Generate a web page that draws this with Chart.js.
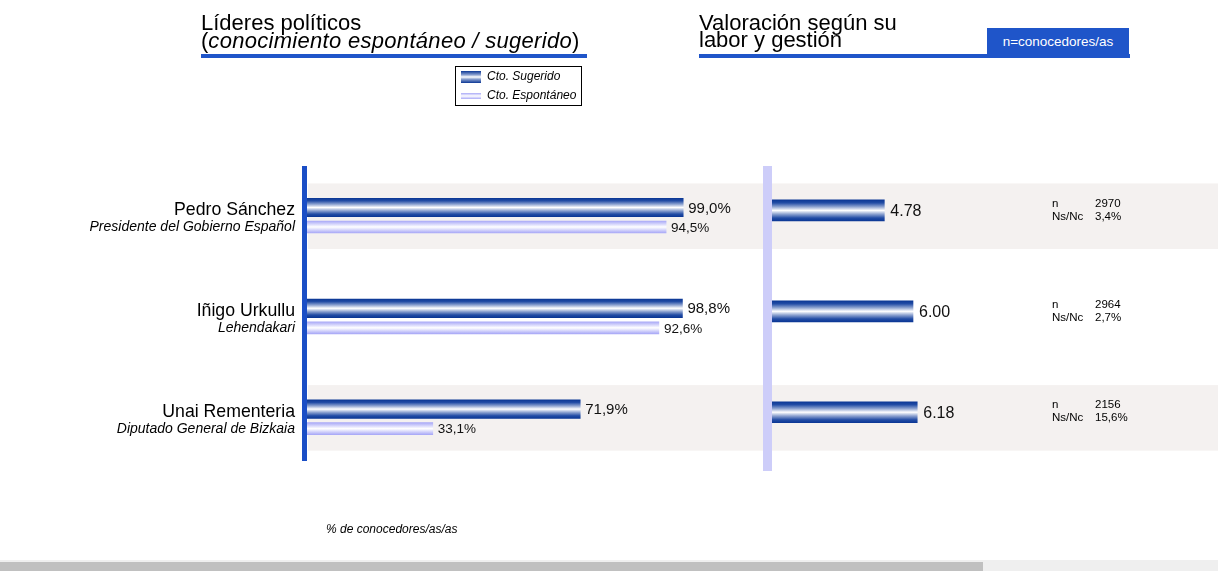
<!DOCTYPE html>
<html lang="es">
<head>
<meta charset="utf-8">
<title>Líderes políticos</title>
<script src="https://cdn.jsdelivr.net/npm/chart.js@4.4.1/dist/chart.umd.min.js"></script>
<style>
  body { margin: 0; width: 1218px; height: 571px; position: relative; overflow: hidden; background: #fff;
         font-family: "Liberation Sans", Arial, sans-serif; color: #000; }
  canvas { position: absolute; left: 0; top: 0; }
  #leftChart { z-index: 1; }
  #rightChart { z-index: 3; }
  .abs { position: absolute; }
  .title { font-size: 22px; line-height: 17.6px; white-space: nowrap; z-index: 4; }
  .title i { letter-spacing: 0.3px; }
  .rule { height: 4px; background: #1f55c9; top: 54px; z-index: 4; }
  #nBox { left: 987px; top: 28px; width: 142px; height: 26px; background: #1f55c9; color: #fff; font-size: 13.5px;
          display: flex; align-items: center; justify-content: center; z-index: 4; }
  #legend { left: 455px; top: 66px; width: 127px; height: 40px; border: 1px solid #000; box-sizing: border-box; z-index: 4; }
  .sw { position: absolute; left: 5px; width: 20px; }
  .lt { position: absolute; left: 31px; font-size: 12px; font-style: italic; line-height: 12px; white-space: nowrap; }
  #footer { left: 326px; top: 522px; font-size: 12px; font-style: italic; z-index: 4; }
</style>
</head>
<body>

<div class="abs title" style="left:201px; top:14.3px;">Líderes políticos<br>(<i>conocimiento espontáneo / sugerido</i>)</div>
<div class="abs rule" style="left:201px; width:386px;"></div>
<div class="abs title" style="left:699px; top:13.6px;">Valoración según su<br>labor y gestión</div>
<div class="abs rule" style="left:699px; width:431px;"></div>
<div class="abs" id="nBox">n=conocedores/as</div>
<div class="abs" id="legend"></div>

<!-- vertical axis bars -->
<div class="abs" style="left:302px; top:166px; width:5px; height:295px; background:#1a4ec6; z-index:2;"></div>
<div class="abs" style="left:763px; top:166px; width:9px; height:305px; background:#cdcdf9; z-index:2;"></div>

<canvas id="leftChart" width="1218" height="571"></canvas>
<canvas id="rightChart" width="1218" height="571"></canvas>

<div class="abs" id="footer">% de conocedores/as/as</div>
<div class="abs" style="left:0; top:560px; width:1218px; height:11px; background:#efefef; z-index:4;"></div>
<div class="abs" style="left:0; top:562px; width:983px; height:9px; background:#c0c0c0; z-index:5;"></div>

<script>
// chart data
const leaders = ['Pedro Sánchez', 'Iñigo Urkullu', 'Unai Rementeria'];
const roles = ['Presidente del Gobierno Español', 'Lehendakari', 'Diputado General de Bizkaia'];
const seriesNames = ['Cto. Sugerido', 'Cto. Espontáneo'];
const sugerido = [99.0, 98.8, 71.9];
const espontaneo = [94.5, 92.6, 33.1];
const valoracion = [4.78, 6.00, 6.18];
const nConocedores = [2970, 2964, 2156];
const nsnc = [3.4, 2.7, 15.6];

// bar look
const SUG_T = 22.5, SUG_W = 18.5;   // slot / visible thickness
const ESP_T = 16.5, ESP_W = 12;
const darkStops = [[0, '#0b3795'], [0.14, '#224ca5'], [0.32, '#8aa0cf'], [0.5, '#ffffff'], [0.68, '#8aa0cf'], [0.86, '#224ca5'], [1, '#0b3795']];
const lightStops = [[0, '#a9a9f7'], [0.5, '#ffffff'], [1, '#a9a9f7']];

const fmtPct = v => v.toFixed(1).replace('.', ',') + '%';

function vGrad(chart, center, half, stops) {
    const g = chart.ctx.createLinearGradient(0, center - half, 0, center + half);
    stops.forEach(s => g.addColorStop(s[0], s[1]));
    return g;
}

// gradient fill centred on each bar, from the category scale
function stripeFill(offset, half, stops) {
    return function (c) {
        const chart = c.chart;
        if (!chart.chartArea || !chart.scales.y) return stops[0][1];
        const y = chart.scales.y.getPixelForValue(c.dataIndex) + offset;
        return vGrad(chart, y, half, stops);
    };
}

// legend built from the series names
const legendEl = document.getElementById('legend');
[[seriesNames[0], 'linear-gradient(#0b3795, #8aa0cf 32%, #fff 50%, #8aa0cf 68%, #0b3795)', 4, 12, 9],
 [seriesNames[1], 'linear-gradient(#a9a9f7, #fff 50%, #a9a9f7)', 25.5, 6, 28]].forEach(item => {
    const sw = document.createElement('div');
    sw.className = 'sw';
    sw.style.top = item[2] + 'px';
    sw.style.height = item[3] + 'px';
    sw.style.background = item[1];
    const t = document.createElement('div');
    t.className = 'lt';
    t.style.top = (item[4] - 6) + 'px';
    t.textContent = item[0];
    legendEl.appendChild(sw);
    legendEl.appendChild(t);
});

function rowStep(scale, n) {
    return (scale.bottom - scale.top) / n;
}

// shaded rows across the whole width
const bandsPlugin = {
    id: 'bands',
    beforeDatasetsDraw(chart) {
        const { ctx, chartArea } = chart;
        const y = chart.scales.y;
        const step = rowStep(y, leaders.length);
        ctx.save();
        ctx.fillStyle = '#f4f1f0';
        leaders.forEach((l, i) => {
            if (i % 2 !== 0) return;
            const c = y.getPixelForValue(i);
            ctx.fillRect(chartArea.left + 1, c - 0.35 * step, chart.width - chartArea.left, 0.65 * step);
        });
        ctx.restore();
    }
};

// row names and value labels on the left
const leftLabels = {
    id: 'leftLabels',
    afterDatasetsDraw(chart) {
        const { ctx, chartArea } = chart;
        const y = chart.scales.y;
        ctx.save();
        ctx.fillStyle = '#000';
        ctx.textBaseline = 'middle';
        ctx.textAlign = 'right';
        leaders.forEach((name, i) => {
            const c = y.getPixelForValue(i);
            ctx.font = '17.7px "Liberation Sans", Arial, sans-serif';
            ctx.fillText(name, chartArea.left - 12, c - 8.5);
            ctx.font = 'italic 14px "Liberation Sans", Arial, sans-serif';
            ctx.fillText(roles[i], chartArea.left - 12, c + 8.5);
        });
        ctx.textAlign = 'left';
        const fonts = ['15px', '13.5px'];
        chart.data.datasets.forEach((ds, d) => {
            ctx.font = fonts[d] + ' "Liberation Sans", Arial, sans-serif';
            ctx.fillStyle = '#111';
            chart.getDatasetMeta(d).data.forEach((bar, i) => {
                ctx.fillText(fmtPct(ds.data[i]), bar.x + 5, bar.y + 1);
            });
        });
        ctx.restore();
    }
};

// scores and sample info on the right
const rightLabels = {
    id: 'rightLabels',
    afterDatasetsDraw(chart) {
        const { ctx, chartArea } = chart;
        const y = chart.scales.y;
        ctx.save();
        ctx.textBaseline = 'middle';
        ctx.textAlign = 'left';
        ctx.fillStyle = '#111';
        ctx.font = '16px "Liberation Sans", Arial, sans-serif';
        chart.getDatasetMeta(0).data.forEach((bar, i) => {
            ctx.fillText(valoracion[i].toFixed(2), bar.x + 6, bar.y + 1);
        });
        ctx.font = '11.5px "Liberation Sans", Arial, sans-serif';
        ctx.fillStyle = '#000';
        leaders.forEach((l, i) => {
            const c = y.getPixelForValue(i);
            ctx.fillText('n', chartArea.right + 45, c - 7);
            ctx.fillText(String(nConocedores[i]), chartArea.right + 88, c - 7);
            ctx.fillText('Ns/Nc', chartArea.right + 45, c + 6);
            ctx.fillText(nsnc[i].toFixed(1).replace('.', ',') + '%', chartArea.right + 88, c + 6);
        });
        ctx.restore();
    }
};

const leftChart = new Chart(document.getElementById('leftChart'), {
    type: 'bar',
    data: {
        labels: leaders,
        datasets: [
            {
                label: seriesNames[0],
                data: sugerido,
                barThickness: SUG_T,
                maxBarThickness: SUG_W,
                backgroundColor: stripeFill(-SUG_T / 2, SUG_W / 2, darkStops),
                borderWidth: 0
            },
            {
                label: seriesNames[1],
                data: espontaneo,
                barThickness: ESP_T,
                maxBarThickness: ESP_W,
                backgroundColor: stripeFill(ESP_T / 2, ESP_W / 2, lightStops),
                borderWidth: 0
            }
        ]
    },
    options: {
        indexAxis: 'y',
        responsive: false,
        animation: false,
        layout: { padding: { left: 307, right: 531, top: 168.3, bottom: 100.2 } },
        scales: {
            x: { min: 0, max: 100, display: false },
            y: { display: false }
        },
        plugins: { legend: { display: false }, tooltip: { enabled: false } }
    },
    plugins: [bandsPlugin, leftLabels]
});

const rightChart = new Chart(document.getElementById('rightChart'), {
    type: 'bar',
    data: {
        labels: leaders,
        datasets: [{
            label: 'Valoración',
            data: valoracion,
            barThickness: 21,
            backgroundColor: stripeFill(0, 10.5, darkStops),
            borderWidth: 0
        }]
    },
    options: {
        indexAxis: 'y',
        responsive: false,
        animation: false,
        layout: { padding: { left: 772, right: 211, top: 160, bottom: 108.3 } },
        scales: {
            x: { min: 0, max: 10, display: false },
            y: { display: false }
        },
        plugins: { legend: { display: false }, tooltip: { enabled: false } }
    },
    plugins: [rightLabels]
});
</script>
</body>
</html>
